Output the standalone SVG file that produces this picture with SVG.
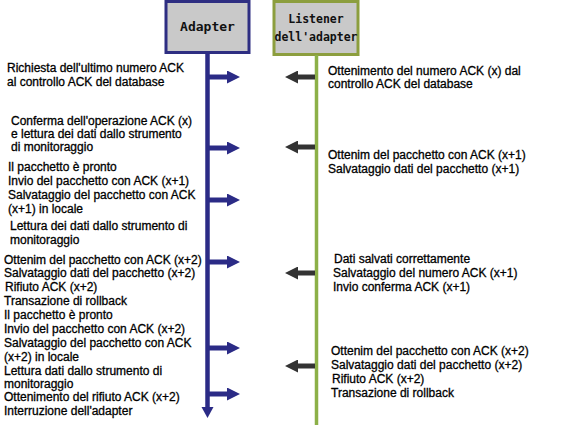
<svg xmlns="http://www.w3.org/2000/svg" width="563" height="425" viewBox="0 0 563 425">
<defs>
<style>
.box{fill:#c9c9c9;stroke-width:3}
.hdr{font-family:"DejaVu Sans Mono",monospace;font-weight:bold;fill:#111;text-anchor:middle}
.t{font-family:"Liberation Sans",Arial,sans-serif;font-size:12px;fill:#000;stroke:#000;stroke-width:0.3}
.ra{stroke:#2b2b86;stroke-width:5;fill:none}
.la{stroke:#333333;stroke-width:5;fill:none}
</style>
<marker id="hr" viewBox="0 0 10 10" refX="0" refY="5" markerWidth="2.6" markerHeight="2.6" orient="auto" markerUnits="strokeWidth">
<path d="M0,0 L10,5 L0,10 z" fill="#2b2b86"/>
</marker>
<marker id="hl" viewBox="0 0 10 10" refX="0" refY="5" markerWidth="2.6" markerHeight="2.6" orient="auto" markerUnits="strokeWidth">
<path d="M0,0 L10,5 L0,10 z" fill="#333333"/>
</marker>
</defs>
<rect width="563" height="425" fill="#ffffff"/>

<g id="adapter">
<rect class="box" x="166" y="1.5" width="83" height="51" stroke="#2e2e82"/>
<text class="hdr" x="207.5" y="31" font-size="13">Adapter</text>
</g>

<g id="listener">
<rect class="box" x="274" y="1.5" width="84" height="53" stroke="#8c9e3e"/>
<text class="hdr" x="316" y="23" font-size="11.5">Listener</text>
<text class="hdr" x="316" y="41" font-size="11.5">dell'adapter</text>
</g>

<g id="connectors">
<line x1="207.5" y1="53" x2="207.5" y2="408" stroke="#2b2b86" stroke-width="4.5"/>
<path d="M201.5,407 L213.5,407 L207.5,418 z" fill="#2b2b86"/>
<line x1="316.5" y1="55" x2="316.5" y2="425" stroke="#8cb048" stroke-width="3.5"/>
<line class="ra" x1="209" y1="77" x2="227" y2="77" marker-end="url(#hr)"/>
<line class="ra" x1="209" y1="148" x2="227" y2="148" marker-end="url(#hr)"/>
<line class="ra" x1="209" y1="200" x2="227" y2="200" marker-end="url(#hr)"/>
<line class="ra" x1="209" y1="262" x2="227" y2="262" marker-end="url(#hr)"/>
<line class="ra" x1="209" y1="348" x2="227" y2="348" marker-end="url(#hr)"/>
<line class="ra" x1="209" y1="394" x2="227" y2="394" marker-end="url(#hr)"/>
<line class="la" x1="315" y1="77" x2="298" y2="77" marker-end="url(#hl)"/>
<line class="la" x1="315" y1="147" x2="298" y2="147" marker-end="url(#hl)"/>
<line class="la" x1="315" y1="273" x2="298" y2="273" marker-end="url(#hl)"/>
<line class="la" x1="315" y1="366" x2="298" y2="366" marker-end="url(#hl)"/>
</g>

<g id="labels-left">
<text class="t" x="7" y="72">Richiesta dell'ultimo numero ACK</text>
<text class="t" x="7" y="86">al controllo ACK del database</text>
<text class="t" x="11" y="125">Conferma dell'operazione ACK (x)</text>
<text class="t" x="11" y="138">e lettura dei dati dallo strumento</text>
<text class="t" x="11" y="151">di monitoraggio</text>
<text class="t" x="8" y="171">Il pacchetto è pronto</text>
<text class="t" x="8" y="185">Invio del pacchetto con ACK (x+1)</text>
<text class="t" x="8" y="199">Salvataggio del pacchetto con ACK</text>
<text class="t" x="8" y="213">(x+1) in locale</text>
<text class="t" x="10" y="230">Lettura dei dati dallo strumento di</text>
<text class="t" x="10" y="244">monitoraggio</text>
<text class="t" x="4" y="264">Ottenim del pacchetto con ACK (x+2)</text>
<text class="t" x="4" y="277">Salvataggio dati del pacchetto (x+2)</text>
<text class="t" x="5" y="291">Rifiuto ACK (x+2)</text>
<text class="t" x="4" y="305">Transazione di rollback</text>
<text class="t" x="4" y="319">Il pacchetto è pronto</text>
<text class="t" x="4" y="333">Invio del pacchetto con ACK (x+2)</text>
<text class="t" x="4" y="347">Salvataggio del pacchetto con ACK</text>
<text class="t" x="4" y="361">(x+2) in locale</text>
<text class="t" x="4" y="375">Lettura dati dallo strumento di</text>
<text class="t" x="4" y="388">monitoraggio</text>
<text class="t" x="4" y="401">Ottenimento del rifiuto ACK (x+2)</text>
<text class="t" x="4" y="415">Interruzione dell'adapter</text>
</g>

<g id="labels-right">
<text class="t" x="328" y="75">Ottenimento del numero ACK (x) dal</text>
<text class="t" x="328" y="88">controllo ACK del database</text>
<text class="t" x="328" y="159">Ottenim del pacchetto con ACK (x+1)</text>
<text class="t" x="328" y="173">Salvataggio dati del pacchetto (x+1)</text>
<text class="t" x="334" y="263">Dati salvati correttamente</text>
<text class="t" x="333" y="277">Salvataggio del numero ACK (x+1)</text>
<text class="t" x="333" y="291">Invio conferma ACK (x+1)</text>
<text class="t" x="331" y="355">Ottenim del pacchetto con ACK (x+2)</text>
<text class="t" x="331" y="369">Salvataggio dati del pacchetto (x+2)</text>
<text class="t" x="332" y="383">Rifiuto ACK (x+2)</text>
<text class="t" x="331" y="397">Transazione di rollback</text>
</g>
</svg>
